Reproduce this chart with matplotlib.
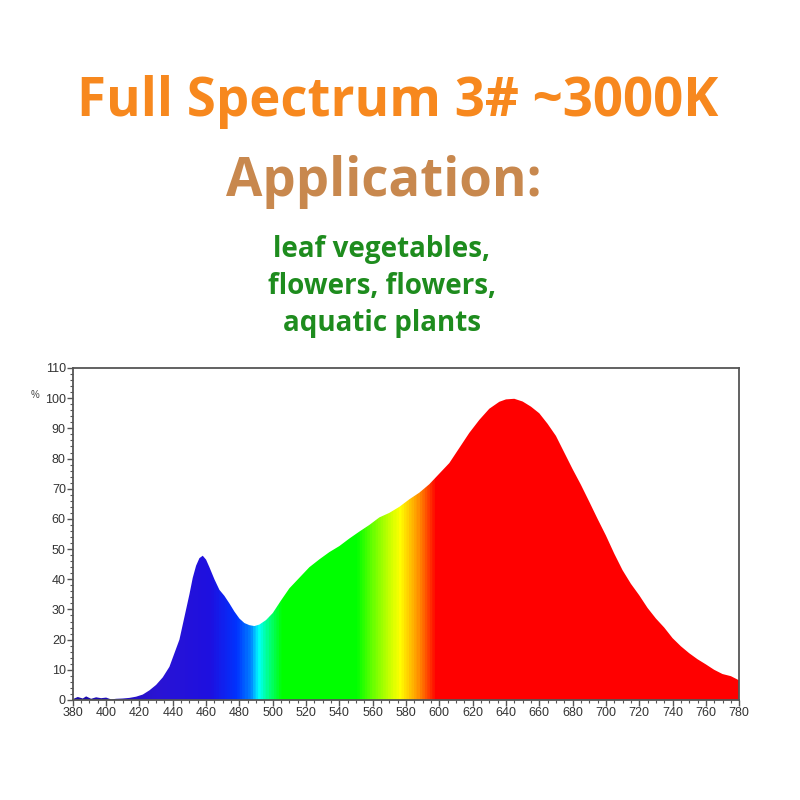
import numpy as np
import matplotlib
matplotlib.use('Agg')
import matplotlib.pyplot as plt
from matplotlib.colors import LinearSegmentedColormap
from matplotlib.ticker import MultipleLocator

# spectrum (nm, relative %)
wl = [380, 383, 386, 388, 391, 394, 397, 400, 403, 406, 410, 414, 418, 422, 426,
      430, 434, 438, 441, 444, 446, 448, 450, 452, 454, 456, 458, 460, 462, 465,
      468, 471, 474, 477, 480, 483, 486, 489, 492, 496, 500, 505, 510, 516, 522,
      528, 534, 540, 546, 552, 558, 564, 570, 576, 582, 588, 594, 600, 606, 612,
      618, 624, 630, 636, 640, 645, 650, 655, 660, 665, 670, 675, 680, 685, 690,
      695, 700, 705, 710, 715, 720, 725, 730, 735, 740, 745, 750, 755, 760, 765,
      770, 775, 780]
val = [0.3, 1.0, 0.5, 1.2, 0.4, 0.9, 0.6, 0.8, 0.2, 0.4, 0.5, 0.7, 1.1, 1.8, 3.2,
       5.0, 7.5, 11, 15.5, 20, 25, 30, 35, 40.5, 44.5, 47, 47.8, 46.5, 44, 40,
       36.5, 34.5, 32, 29.3, 27, 25.5, 24.8, 24.5, 25, 26.5, 28.8, 33, 37, 40.5, 44,
       46.6, 49, 51, 53.5, 55.8, 58, 60.5, 62, 64, 66.5, 68.7, 71.5, 75, 78.5, 83.5,
       88.5, 92.8, 96.5, 98.8, 99.6, 99.8, 98.9, 97.2, 95, 91.5, 87.5, 82, 76.5, 71.3, 65.7,
       60, 54.5, 48.5, 43, 38.5, 34.7, 30.5, 27, 24, 20.5, 17.8, 15.5, 13.5, 11.8, 10,
       8.6, 7.9, 6.5]

# colour stops of the fill along wavelength
stop_nm = [380, 430, 462, 478, 486, 491, 497, 505, 550, 562, 576, 586, 598, 780]
stop_col = ['#1a0aa8', '#2a14d4', '#1e10e0', '#0034ff', '#0080ff', '#00ffff', '#00ff80',
            '#00ff00', '#00ff00', '#80ff00', '#ffff00', '#ffa000', '#ff0000', '#ff0000']

x_ticks = list(range(380, 781, 20))
y_ticks = list(range(0, 111, 10))

fig = plt.figure(figsize=(8, 8), dpi=100)
fig.patch.set_facecolor('white')

fig.text(0.497, 0.872, 'Full Spectrum 3# ~3000K', ha='center', va='center',
         fontsize=38, fontweight='bold', color='#f7881e', family='Open Sans')
fig.text(0.48, 0.772, 'Application:', ha='center', va='center',
         fontsize=38, fontweight='bold', color='#c8884e', family='Open Sans')
fig.text(0.477, 0.642, 'leaf vegetables,\nflowers, flowers,\naquatic plants', ha='center',
         va='center', fontsize=20, fontweight='bold', color='#1e8c1e', family='Open Sans',
         linespacing=1.35)

ax = fig.add_axes([0.091, 0.125, 0.833, 0.415])
ax.set_xlim(380, 780)
ax.set_ylim(0, 110)

pos = [(n - 380) / 400 for n in stop_nm]
cmap = LinearSegmentedColormap.from_list('spec', list(zip(pos, stop_col)))
grad = np.linspace(0, 1, 800).reshape(1, -1)
img = ax.imshow(grad, cmap=cmap, extent=[380, 780, 0, 110], aspect='auto', origin='lower')
poly = ax.fill_between(wl, val, 0, color='none', lw=0)
clip = poly.get_paths()[0]
img.set_clip_path(clip, transform=ax.transData)

ax.set_xticks(x_ticks)
ax.set_yticks(y_ticks)
ax.xaxis.set_minor_locator(MultipleLocator(5))
ax.yaxis.set_minor_locator(MultipleLocator(2))
ax.tick_params(which='major', length=4, width=1, color='#555555', labelsize=9,
               labelcolor='#333333', pad=1)
ax.tick_params(which='minor', length=2.5, width=0.8, color='#555555')
for lab in ax.get_xticklabels() + ax.get_yticklabels():
    lab.set_family('Liberation Sans')
for s in ax.spines.values():
    s.set_color('#555555')
    s.set_linewidth(1.3)

fig.text(0.044, 0.506, '%', fontsize=7, color='#444444', family='Liberation Sans',
         ha='center', va='center')

fig.savefig('out.png', dpi=100, facecolor='white')
